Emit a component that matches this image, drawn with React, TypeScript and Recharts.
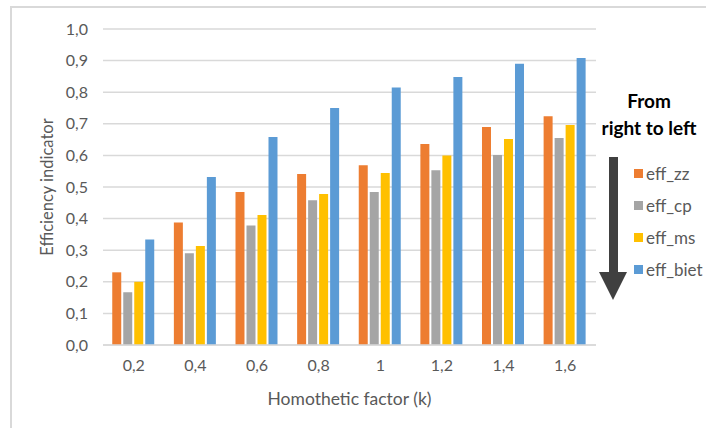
import { BarChart, Bar, XAxis, YAxis, CartesianGrid, Label } from "recharts";

const categories = ["0,2", "0,4", "0,6", "0,8", "1", "1,2", "1,4", "1,6"];
const effZz = [0.23, 0.388, 0.484, 0.541, 0.569, 0.636, 0.69, 0.724];
const effCp = [0.167, 0.29, 0.378, 0.458, 0.484, 0.553, 0.601, 0.655];
const effMs = [0.2, 0.313, 0.411, 0.478, 0.544, 0.6, 0.652, 0.696];
const effBiet = [0.334, 0.532, 0.658, 0.75, 0.815, 0.848, 0.89, 0.908];
const yTicks = [0, 0.1, 0.2, 0.3, 0.4, 0.5, 0.6, 0.7, 0.8, 0.9, 1];
const edgeTicks = [0, 1, 2, 3, 4, 5, 6, 7, 8];

const series = [
  { key: "eff_zz", color: "#ED7D31" },
  { key: "eff_cp", color: "#A5A5A5" },
  { key: "eff_ms", color: "#FFC000" },
  { key: "eff_biet", color: "#5B9BD5" },
];

const data = categories.map((k, i) => ({
  k,
  eff_zz: effZz[i],
  eff_cp: effCp[i],
  eff_ms: effMs[i],
  eff_biet: effBiet[i],
}));

const FONT = "Lato, 'Liberation Sans', sans-serif";
const TEXT = "#595959";
const GRID = "#d9d9d9";

function fmt(v: number): string {
  return v.toFixed(1).replace(".", ",");
}

function LegendBox() {
  return (
    <div
      style={{
        position: "absolute",
        left: 590,
        top: 87,
        width: 118,
        fontFamily: FONT,
      }}
    >
      <div
        style={{
          textAlign: "center",
          fontWeight: 700,
          fontSize: 19,
          lineHeight: "27px",
          color: "#000",
        }}
      >
        From
        <br />
        right to left
      </div>
      <div style={{ position: "relative", height: 170 }}>
        <svg
          width={28}
          height={143}
          style={{ position: "absolute", left: 9, top: 16 }}
        >
          <rect x={10} y={0} width={9} height={116} fill="#404040" />
          <polygon points="0,115 28,115 14,143" fill="#404040" />
        </svg>
        <div style={{ position: "absolute", left: 44, top: 16 }}>
          {series.map((s) => (
            <div
              key={s.key}
              style={{
                display: "flex",
                alignItems: "center",
                height: 32,
                fontSize: 17,
                color: TEXT,
              }}
            >
              <span
                style={{
                  display: "inline-block",
                  width: 9,
                  height: 9,
                  background: s.color,
                  marginRight: 3,
                }}
              />
              {s.key}
            </div>
          ))}
        </div>
      </div>
    </div>
  );
}

function YTitle(props: any) {
  const vb = props.viewBox;
  const cx = vb.x + 47;
  const cy = vb.y + vb.height / 2;
  return (
    <text
      x={cx}
      y={cy}
      transform={`rotate(-90, ${cx}, ${cy})`}
      textAnchor="middle"
      dominantBaseline="central"
      fill={TEXT}
      fontSize={16.5}
      fontFamily={FONT}
    >
      Efficiency indicator
    </text>
  );
}

export default function App() {
  return (
    <div
      style={{
        position: "absolute",
        left: 0,
        top: 0,
        width: 706,
        height: 428,
        overflow: "hidden",
        background: "#fff",
        fontFamily: FONT,
      }}
    >
      <div
        style={{
          position: "absolute",
          left: 10,
          top: 6,
          width: 800,
          height: 600,
          border: `2px solid ${GRID}`,
        }}
      />
      <BarChart
        width={706}
        height={428}
        data={data}
        margin={{ top: 29, right: 110, left: 0, bottom: 23 }}
        barCategoryGap="15%"
        barGap={2}
      >
        <CartesianGrid
          vertical={false}
          stroke={GRID}
          strokeWidth={1.5}
          xAxisId="cat"
        />
        <XAxis
          xAxisId="edge"
          type="number"
          domain={[0, 8]}
          ticks={edgeTicks}
          interval={0}
          tick={{ fill: "none", fontSize: 1 }}
          axisLine={false}
          tickLine={{ stroke: GRID, strokeWidth: 1.5 }}
          tickSize={6}
          height={0}
        />
        <XAxis
          xAxisId="cat"
          dataKey="k"
          height={60}
          interval={0}
          axisLine={{ stroke: GRID, strokeWidth: 1.5 }}
          tickLine={false}
          tickSize={0}
          tickMargin={15}
          tick={{ fill: TEXT, fontSize: 16, fontFamily: FONT }}
        >
          <Label
            value="Homothetic factor (k)"
            position="insideBottom"
            offset={0}
            fill={TEXT}
            fontSize={17.5}
            fontFamily={FONT}
          />
        </XAxis>
        <YAxis
          domain={[0, 1]}
          ticks={yTicks}
          interval={0}
          tickFormatter={fmt}
          axisLine={false}
          tickLine={false}
          tickSize={0}
          tickMargin={15}
          width={103}
          tick={{ fill: TEXT, fontSize: 16, fontFamily: FONT }}
        >
          <Label content={YTitle} />
        </YAxis>
        {series.map((s) => (
          <Bar
            key={s.key}
            dataKey={s.key}
            xAxisId="cat"
            fill={s.color}
            isAnimationActive={false}
          />
        ))}
      </BarChart>
      <LegendBox />
    </div>
  );
}
